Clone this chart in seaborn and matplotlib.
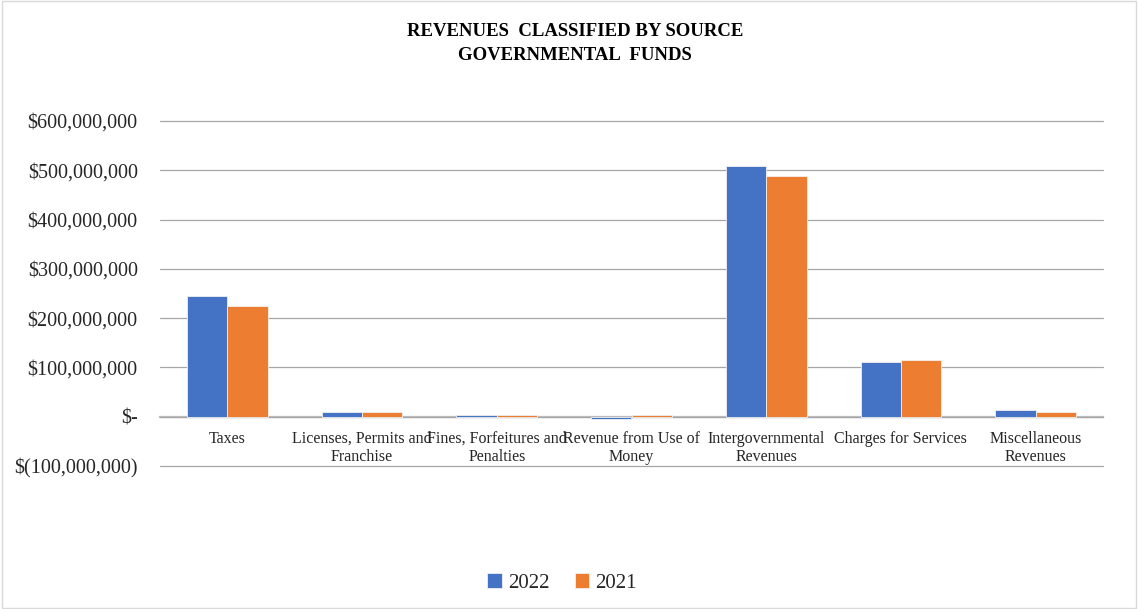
import matplotlib
matplotlib.use("Agg")
import matplotlib.pyplot as plt
import matplotlib.ticker as mticker
import seaborn as sns
import pandas as pd

categories = ["Taxes", "Licenses, Permits and\nFranchise", "Fines, Forfeitures and\nPenalties",
              "Revenue from Use of\nMoney", "Intergovernmental\nRevenues", "Charges for Services",
              "Miscellaneous\nRevenues"]
years = ["2022", "2021"]
values_2022 = [245e6, 10e6, 3.5e6, -5e6, 509e6, 110e6, 14e6]
values_2021 = [225e6, 10e6, 3e6, 3e6, 489e6, 116e6, 10e6]
colors = ["#4472C4", "#ED7D31"]

df = pd.DataFrame({
    "category": categories * 2,
    "year": [years[0]] * len(categories) + [years[1]] * len(categories),
    "value": values_2022 + values_2021,
})

sns.set_theme(style="white")
plt.rcParams["font.family"] = ["Liberation Serif", "DejaVu Serif"]

fig = plt.figure(figsize=(11.38, 6.09), dpi=100)
ax = fig.add_axes([160 / 1138, 1 - 466 / 609, (1103 - 160) / 1138, (466 - 121) / 609])

sns.barplot(data=df, x="category", y="value", hue="year", hue_order=years,
            palette=colors, saturation=1, width=0.6, ax=ax, edgecolor="#F0F0F0",
            linewidth=0.6, legend=True, errorbar=None)

ax.set_ylim(-100e6, 600e6)
ax.set_xlim(-0.5, len(categories) - 0.5)
ax.yaxis.set_major_locator(mticker.MultipleLocator(100e6))


def fmt(v, pos):
    if abs(v) < 1:
        return "$-"
    if v < 0:
        return "$({:,.0f})".format(-v)
    return "${:,.0f}".format(v)


ax.yaxis.set_major_formatter(mticker.FuncFormatter(fmt))
ax.grid(axis="y", color="#A6A6A6", linewidth=0.9)
ax.grid(axis="x", visible=False)
for gl in ax.yaxis.get_gridlines():
    gl.set_clip_on(False)
ax.set_axisbelow(True)
for s in ["top", "left", "right"]:
    ax.spines[s].set_visible(False)
ax.spines["bottom"].set_position(("data", 0))
ax.spines["bottom"].set_color("#BFBFBF")
ax.spines["bottom"].set_linewidth(1.6)
ax.spines["bottom"].set_zorder(0.5)
ax.tick_params(axis="x", length=0, pad=10, labelsize=11.5, colors="#262626")
ax.tick_params(axis="y", length=0, pad=16, labelsize=14.5, colors="#262626")
ax.set_xlabel("")
ax.set_ylabel("")

handles, labels = ax.get_legend_handles_labels()
ax.get_legend().remove()
fig.legend(handles, labels, loc="center", bbox_to_anchor=(562 / 1138, 1 - 583 / 609), ncol=2,
           frameon=False, handlelength=0.7, handleheight=0.7, handletextpad=0.3,
           columnspacing=1.2, prop={"size": 15})

fig.text(575 / 1138, 1 - 32 / 609, "REVENUES  CLASSIFIED BY SOURCE", ha="center", va="center",
         fontsize=13.5, fontweight="bold", color="black")
fig.text(575 / 1138, 1 - 55 / 609, "GOVERNMENTAL  FUNDS", ha="center", va="center",
         fontsize=13.5, fontweight="bold", color="black")

fig.patches.append(plt.Rectangle((0.0015, 0.0015), 0.997, 0.997, transform=fig.transFigure,
                                 fill=False, edgecolor="#D9D9D9", linewidth=1))

fig.savefig("out.png", dpi=100, facecolor="white")
